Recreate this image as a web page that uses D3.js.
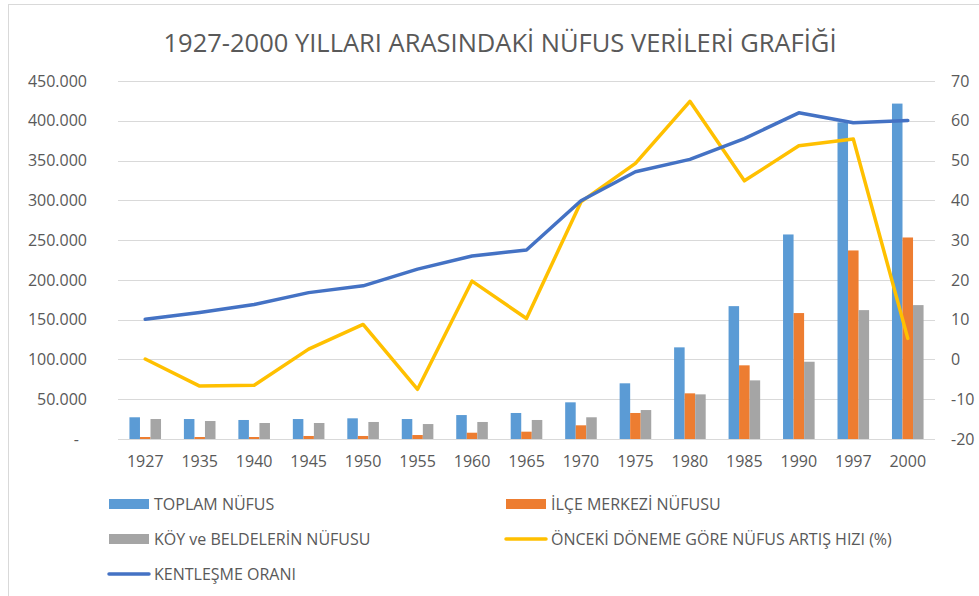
<!DOCTYPE html>
<html>
<head>
<meta charset="utf-8">
<script src="https://cdn.jsdelivr.net/npm/d3@7"></script>
<style>
  body { margin: 0; background: #fff; }
  svg { display: block; font-family: "Open Sans", "DejaVu Sans", sans-serif; }
</style>
</head>
<body>
<svg width="979" height="596"></svg>
<script>
// values
const years = ["1927", "1935", "1940", "1945", "1950", "1955", "1960", "1965",
               "1970", "1975", "1980", "1985", "1990", "1997", "2000"];
const toplamNufus = [27300, 25100, 23900, 25100, 26000, 25100, 30100, 32700,
                     46100, 70000, 115200, 167000, 257100, 398000, 421600];
const ilceMerkezi = [2500, 2500, 2500, 3800, 3800, 5000, 7900, 9200,
                     17200, 32700, 57400, 92600, 158300, 237000, 253300];
const koyBelde = [25100, 22600, 20100, 20100, 21400, 18800, 21400, 23900,
                  27300, 36400, 56100, 73700, 97100, 162000, 168300];
const artisHizi = [0.1, -6.7, -6.5, 2.6, 8.8, -7.5, 19.7, 10.3,
                   39.6, 49.3, 64.9, 44.9, 53.7, 55.4, 5.3];
const kentlesme = [10.1, 11.8, 13.8, 16.8, 18.5, 22.7, 26.0, 27.5,
                   39.9, 47.2, 50.3, 55.5, 62.0, 59.5, 60.1];
const leftTicks = [0, 50000, 100000, 150000, 200000, 250000, 300000, 350000, 400000, 450000];
const rightTicks = [-20, -10, 0, 10, 20, 30, 40, 50, 60, 70];

document.addEventListener('DOMContentLoaded', (event) => {
    let svg = d3.select("svg");
    let textColor = "#595959";

    // chart border
    svg.append("rect")
        .attr("x", 8.5).attr("y", 4.5)
        .attr("width", 1000).attr("height", 700)
        .attr("fill", "none")
        .attr("stroke", "#d9d9d9")
        .attr("stroke-width", 1);

    svg.append("text")
        .attr("x", 500)
        .attr("y", 52)
        .attr("font-size", "25.5px")
        .attr("fill", textColor)
        .style("text-anchor", "middle")
        .text("1927-2000 YILLARI ARASINDAKİ NÜFUS VERİLERİ GRAFİĞİ");

    let left = 118, right = 935, top = 81, bottom = 439;

    let xScale = d3.scaleBand().domain(years).range([left, right])
        .paddingInner(0.42).paddingOuter(0.21);
    let sub = d3.scaleBand().domain([0, 1, 2]).range([0, xScale.bandwidth()]);
    let yLeft = d3.scaleLinear().domain([0, 450000]).range([bottom, top]);
    let yRight = d3.scaleLinear().domain([-20, 70]).range([bottom, top]);

    // gridlines
    svg.append("g").selectAll("line")
        .data(leftTicks)
        .enter().append("line")
        .attr("x1", left).attr("x2", right)
        .attr("y1", d => Math.round(yLeft(d)) + 0.5)
        .attr("y2", d => Math.round(yLeft(d)) + 0.5)
        .attr("stroke", "#d9d9d9")
        .attr("stroke-width", 1);

    let fmt = v => v === 0 ? "-" : d3.format(",")(v).replace(/,/g, ".");

    let gl = svg.append("g")
        .attr("transform", "translate(87,0)")
        .call(d3.axisLeft(yLeft).tickValues(leftTicks).tickSize(0).tickPadding(0).tickFormat(fmt));
    gl.select(".domain").remove();
    gl.selectAll("text")
        .attr("font-size", "16px")
        .attr("font-family", "Open Sans, sans-serif")
        .attr("fill", textColor)
        .attr("dx", d => d === 0 ? -8 : 0);

    let gr = svg.append("g")
        .attr("transform", "translate(951,0)")
        .call(d3.axisRight(yRight).tickValues(rightTicks).tickSize(0).tickPadding(0)
            .tickFormat(d => String(d)));
    gr.select(".domain").remove();
    gr.selectAll("text")
        .attr("font-size", "16px")
        .attr("font-family", "Open Sans, sans-serif")
        .attr("fill", textColor);

    let gx = svg.append("g")
        .attr("transform", "translate(0," + bottom + ")")
        .call(d3.axisBottom(xScale).tickSize(0).tickPadding(17));
    gx.select(".domain").remove();
    gx.selectAll("text")
        .attr("font-size", "16px")
        .attr("font-family", "Open Sans, sans-serif")
        .attr("fill", textColor);

    // bars
    let series = [
        { values: toplamNufus, color: "#5b9bd5" },
        { values: ilceMerkezi, color: "#ed7d31" },
        { values: koyBelde, color: "#a5a5a5" }
    ];
    series.forEach((s, k) => {
        svg.append("g").selectAll("rect")
            .data(s.values)
            .enter().append("rect")
            .attr("x", (d, i) => xScale(years[i]) + sub(k))
            .attr("width", sub.bandwidth())
            .attr("y", d => yLeft(d))
            .attr("height", d => bottom - yLeft(d))
            .attr("fill", s.color);
    });

    // lines on the right axis
    let cx = i => xScale(years[i]) + xScale.bandwidth() / 2;
    let line = d3.line().x((d, i) => cx(i)).y(d => yRight(d));

    svg.append("path")
        .datum(artisHizi)
        .attr("d", line)
        .attr("fill", "none")
        .attr("stroke", "#ffc000")
        .attr("stroke-width", 3.5)
        .attr("stroke-linecap", "round")
        .attr("stroke-linejoin", "round");

    svg.append("path")
        .datum(kentlesme)
        .attr("d", line)
        .attr("fill", "none")
        .attr("stroke", "#4472c4")
        .attr("stroke-width", 3.5)
        .attr("stroke-linecap", "round")
        .attr("stroke-linejoin", "round");

    // legend
    let legend = [
        { name: "TOPLAM NÜFUS", color: "#5b9bd5", type: "bar", x: 109, y: 504 },
        { name: "İLÇE MERKEZİ NÜFUSU", color: "#ed7d31", type: "bar", x: 506, y: 504 },
        { name: "KÖY ve BELDELERİN NÜFUSU", color: "#a5a5a5", type: "bar", x: 109, y: 539 },
        { name: "ÖNCEKİ DÖNEME GÖRE NÜFUS ARTIŞ HIZI (%)", color: "#ffc000", type: "line", x: 506, y: 539 },
        { name: "KENTLEŞME ORANI", color: "#4472c4", type: "line", x: 109, y: 574 }
    ];
    let lg = svg.append("g").selectAll("g")
        .data(legend)
        .enter().append("g")
        .attr("transform", d => "translate(" + d.x + "," + d.y + ")");
    lg.filter(d => d.type === "bar").append("rect")
        .attr("x", 0).attr("y", -5)
        .attr("width", 40).attr("height", 10)
        .attr("fill", d => d.color);
    lg.filter(d => d.type === "line").append("line")
        .attr("x1", 0).attr("x2", 40)
        .attr("stroke", d => d.color)
        .attr("stroke-width", 3.5)
        .attr("stroke-linecap", "round");
    lg.append("text")
        .attr("x", 45)
        .attr("dy", "0.35em")
        .attr("font-size", "16px")
        .attr("fill", textColor)
        .text(d => d.name);
});
</script>
</body>
</html>
